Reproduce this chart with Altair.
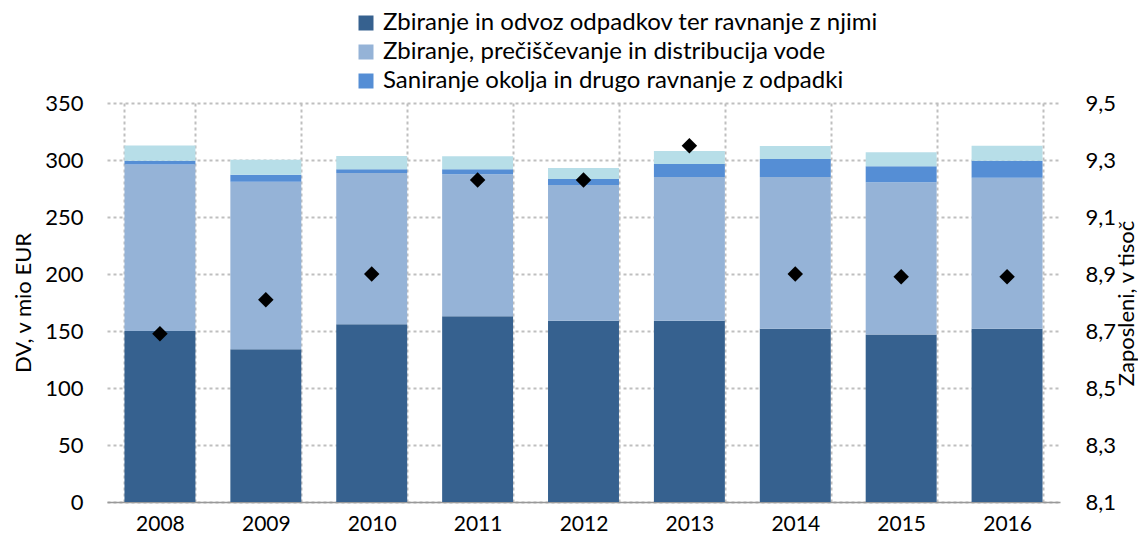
import altair as alt
import pandas as pd

years = ["2008", "2009", "2010", "2011", "2012", "2013", "2014", "2015", "2016"]
series = [
    "Zbiranje in odvoz odpadkov ter ravnanje z njimi",
    "Zbiranje, prečiščevanje in distribucija vode",
    "Saniranje okolja in drugo ravnanje z odpadki",
    "Drugo",
]
waste = [150, 134, 156, 163, 159, 159, 152, 147, 152]
water = [146, 147, 132.5, 124.5, 119, 126, 133, 133.5, 132.5]
remediation = [3.4, 6.1, 3.4, 4.3, 5.3, 11.5, 15.9, 14, 14.8]
other = [13.3, 13.2, 11.5, 11.5, 9.7, 11.4, 11.4, 12.3, 13.3]
employees = [8.69, 8.81, 8.90, 9.23, 9.23, 9.35, 8.90, 8.89, 8.89]

colors = ["#36618F", "#95B3D7", "#558ED5", "#B7DEE8"]
left_ticks = [0, 50, 100, 150, 200, 250, 300, 350]
right_ticks = [8.1, 8.3, 8.5, 8.7, 8.9, 9.1, 9.3, 9.5]

rows = []
for i, y in enumerate(years):
    for k, vals in enumerate([waste, water, remediation, other]):
        rows.append({"leto": y, "serija": series[k], "red": k, "vrednost": vals[i]})
bars_df = pd.DataFrame(rows)
emp_df = pd.DataFrame({"leto": years, "zaposleni": employees})

FONT = "Lato"
AX = 22

xenc = alt.X(
    "leto:N",
    sort=years,
    scale=alt.Scale(paddingInner=0.33, paddingOuter=0.165),
    axis=alt.Axis(
        title=None,
        labelAngle=0,
        labelFontSize=21,
        labelFont=FONT,
        labelColor="#000000",
        labelPadding=11,
        ticks=False,
        domainColor="#999999",
        domainWidth=1.5,
        grid=True,
        tickBand="extent",
        gridColor="#BFBFBF",
        gridDash=[3, 3],
        gridWidth=2,
    ),
)

bars = alt.Chart(bars_df).mark_bar().encode(
    x=xenc,
    y=alt.Y(
        "vrednost:Q",
        stack="zero",
        scale=alt.Scale(domain=[0, 350], nice=False),
        axis=alt.Axis(
            values=left_ticks,
            title="DV, v mio EUR",
            titleFontSize=AX,
            titleFont=FONT,
            titleFontWeight="normal",
            titleColor="#000000",
            titlePadding=9,
            labelFontSize=AX,
            labelFont=FONT,
            labelColor="#000000",
            labelPadding=24,
            ticks=False,
            domain=False,
            grid=True,
            gridColor="#BFBFBF",
            gridDash=[3, 3],
            gridWidth=2,
        ),
    ),
    color=alt.Color(
        "serija:N",
        scale=alt.Scale(domain=series, range=colors),
        legend=alt.Legend(
            values=series[:3],
            title=None,
            orient="none",
            legendX=247,
            legendY=-92,
            padding=0,
            direction="vertical",
            symbolType="square",
            symbolSize=225,
            symbolStrokeWidth=0,
            symbolOpacity=1,
            labelFontSize=24,
            labelFont=FONT,
            labelColor="#000000",
            labelOffset=5,
            rowPadding=5,
            labelLimit=800,
        ),
    ),
    order=alt.Order("red:Q", sort="ascending"),
)

points = alt.Chart(emp_df).mark_point(
    shape="diamond", filled=True, color="#000000", size=240, opacity=1
).encode(
    x=alt.X("leto:N", sort=years),
    y=alt.Y(
        "zaposleni:Q",
        scale=alt.Scale(domain=[8.1, 9.5], nice=False, zero=False),
        axis=alt.Axis(
            orient="right",
            values=right_ticks,
            labelExpr="replace(format(datum.value, '.1f'), '.', ',')",
            title="Zaposleni, v tisoč",
            titleAngle=270,
            titleBaseline="middle",
            titleAlign="center",
            titleX=66,
            titleY=200,
            titleFontSize=AX,
            titleFont=FONT,
            titleFontWeight="normal",
            titleColor="#000000",
            labelFontSize=AX,
            labelFont=FONT,
            labelColor="#000000",
            labelPadding=25,
            ticks=False,
            domain=False,
            grid=False,
        ),
    ),
)

chart = (
    alt.layer(bars, points)
    .resolve_scale(y="independent")
    .properties(
        width=953,
        height=399,
        autosize=alt.AutoSizeParams(type="none"),
        padding={"left": 99, "top": 95, "right": 78, "bottom": 32},
    )
    .configure_view(stroke=None)
)

chart.save("out.html", embed_options={"renderer": "svg", "actions": False})
